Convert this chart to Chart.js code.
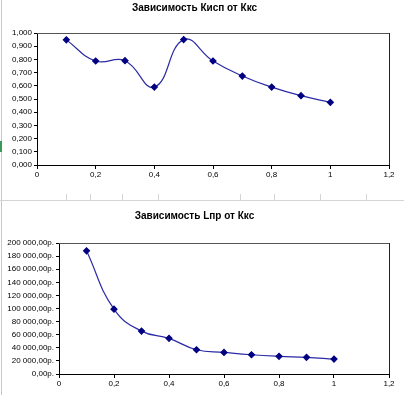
<!DOCTYPE html>
<html>
<head>
<meta charset="utf-8">
<script src="https://cdn.jsdelivr.net/npm/chart.js@4.4.1/dist/chart.umd.min.js"></script>
<style>
    html, body { margin: 0; padding: 0; background: #fff; }
    body { width: 404px; height: 395px; position: relative; overflow: hidden; }
    .box { position: absolute; left: 0; width: 404px; }
    #box1 { top: 0; height: 198px; }
    #box2 { top: 201px; height: 194px; }
    .deco { position: absolute; background: #d4d4d4; }
</style>
</head>
<body>
<div class="box" id="box1"><canvas id="chart1" width="404" height="198"></canvas></div>
<div class="box" id="box2"><canvas id="chart2" width="404" height="194"></canvas></div>

<div class="deco" style="left:1px;top:0;width:1px;height:395px;background:#c8c8c8"></div>
<div class="deco" style="left:0;top:141px;width:2px;height:11px;background:#3a9a5a"></div>
<div class="deco" style="left:0;top:200px;width:404px;height:1px"></div>
<div id="cellTicks"></div>

<script>
// shared x values (Ккс)
const kks = [0.1, 0.2, 0.3, 0.4, 0.5, 0.6, 0.7, 0.8, 0.9, 1.0];
// Кисп
const kisp = [0.948, 0.788, 0.790, 0.590, 0.950, 0.788, 0.674, 0.590, 0.525, 0.475];
// Lпр, руб.
const lpr = [188000, 99000, 65500, 54400, 37000, 33000, 29400, 27000, 25400, 22800];

const title1 = 'Зависимость Кисп от Ккс';
const title2 = 'Зависимость Lпр от Ккс';

// grey spreadsheet cell borders between the two charts
const cellTickX = [66, 90, 122, 158, 240, 274, 320, 366];
cellTickX.forEach(x => {
    const d = document.createElement('div');
    d.className = 'deco';
    d.style.cssText = `left:${x}px;top:194px;width:1px;height:6px`;
    document.getElementById('cellTicks').appendChild(d);
});

const FONT = 'Arial, "Liberation Sans", sans-serif';

// draw top/right border of plot area
const frame = {
    id: 'frame',
    afterDraw(chart) {
        const { ctx, chartArea: a } = chart;
        ctx.save();
        ctx.strokeStyle = '#555';
        ctx.lineWidth = 1;
        ctx.beginPath();
        ctx.moveTo(a.left, a.top + 0.5);
        ctx.lineTo(a.right + 0.5, a.top + 0.5);
        ctx.stroke();
        ctx.strokeStyle = '#222';
        ctx.beginPath();
        ctx.moveTo(a.right + 0.5, a.top);
        ctx.lineTo(a.right + 0.5, a.bottom);
        ctx.stroke();
        ctx.restore();
    }
};

function xLabel(v) {
    return String(Math.round(v * 10) / 10).replace('.', ',');
}

function rub(v) {
    const s = Math.round(v).toString().replace(/\B(?=(\d{3})+(?!\d))/g, ' ');
    return s + ',00р.';
}

function makeChart(id, data, title, opts) {
    return new Chart(document.getElementById(id), {
        type: 'line',
        data: {
            datasets: [{
                data: kks.map((x, i) => ({ x, y: data[i] })),
                borderColor: '#2b2ba6',
                borderWidth: 1.2,
                backgroundColor: '#000080',
                pointBackgroundColor: '#000080',
                pointBorderColor: '#000080',
                pointStyle: 'rectRot',
                pointRadius: 3,
                tension: 0.45
            }]
        },
        options: {
            responsive: false,
            animation: false,
            layout: { padding: { left: 0, right: 15, top: 0, bottom: 0 } },
            plugins: {
                legend: { display: false },
                tooltip: { enabled: false },
                title: {
                    display: true,
                    text: title,
                    color: '#000',
                    font: { family: FONT, size: 10, weight: 'bold' },
                    padding: { top: opts.titleTop, bottom: opts.titleBottom }
                }
            },
            scales: {
                x: {
                    type: 'linear',
                    min: 0, max: 1.2,
                    ticks: {
                        stepSize: 0.2,
                        color: '#000',
                        padding: 1,
                        font: { family: FONT, size: 8 },
                        callback: xLabel,
                        maxRotation: 0
                    },
                    grid: { drawOnChartArea: false, color: '#000', tickLength: 4 },
                    border: { color: '#000', width: 1 },
                    afterFit(s) { s.height = opts.xHeight; }
                },
                y: {
                    min: 0, max: opts.yMax,
                    ticks: {
                        stepSize: opts.yStep,
                        color: '#000',
                        padding: 2,
                        font: { family: FONT, size: 8 },
                        callback: opts.yFmt
                    },
                    grid: { drawOnChartArea: false, color: '#000', tickLength: 3 },
                    border: { color: '#000', width: 1 },
                    afterFit(s) { s.width = opts.yWidth; }
                }
            }
        },
        plugins: [frame]
    });
}

makeChart('chart1', kisp, title1, {
    titleTop: 2, titleBottom: 19,
    xHeight: 33, yWidth: 37,
    yMax: 1, yStep: 0.1,
    yFmt: v => v.toFixed(3).replace('.', ',')
});

makeChart('chart2', lpr, title2, {
    titleTop: 9, titleBottom: 21,
    xHeight: 21, yWidth: 59,
    yMax: 200000, yStep: 20000,
    yFmt: rub
});
</script>
</body>
</html>
